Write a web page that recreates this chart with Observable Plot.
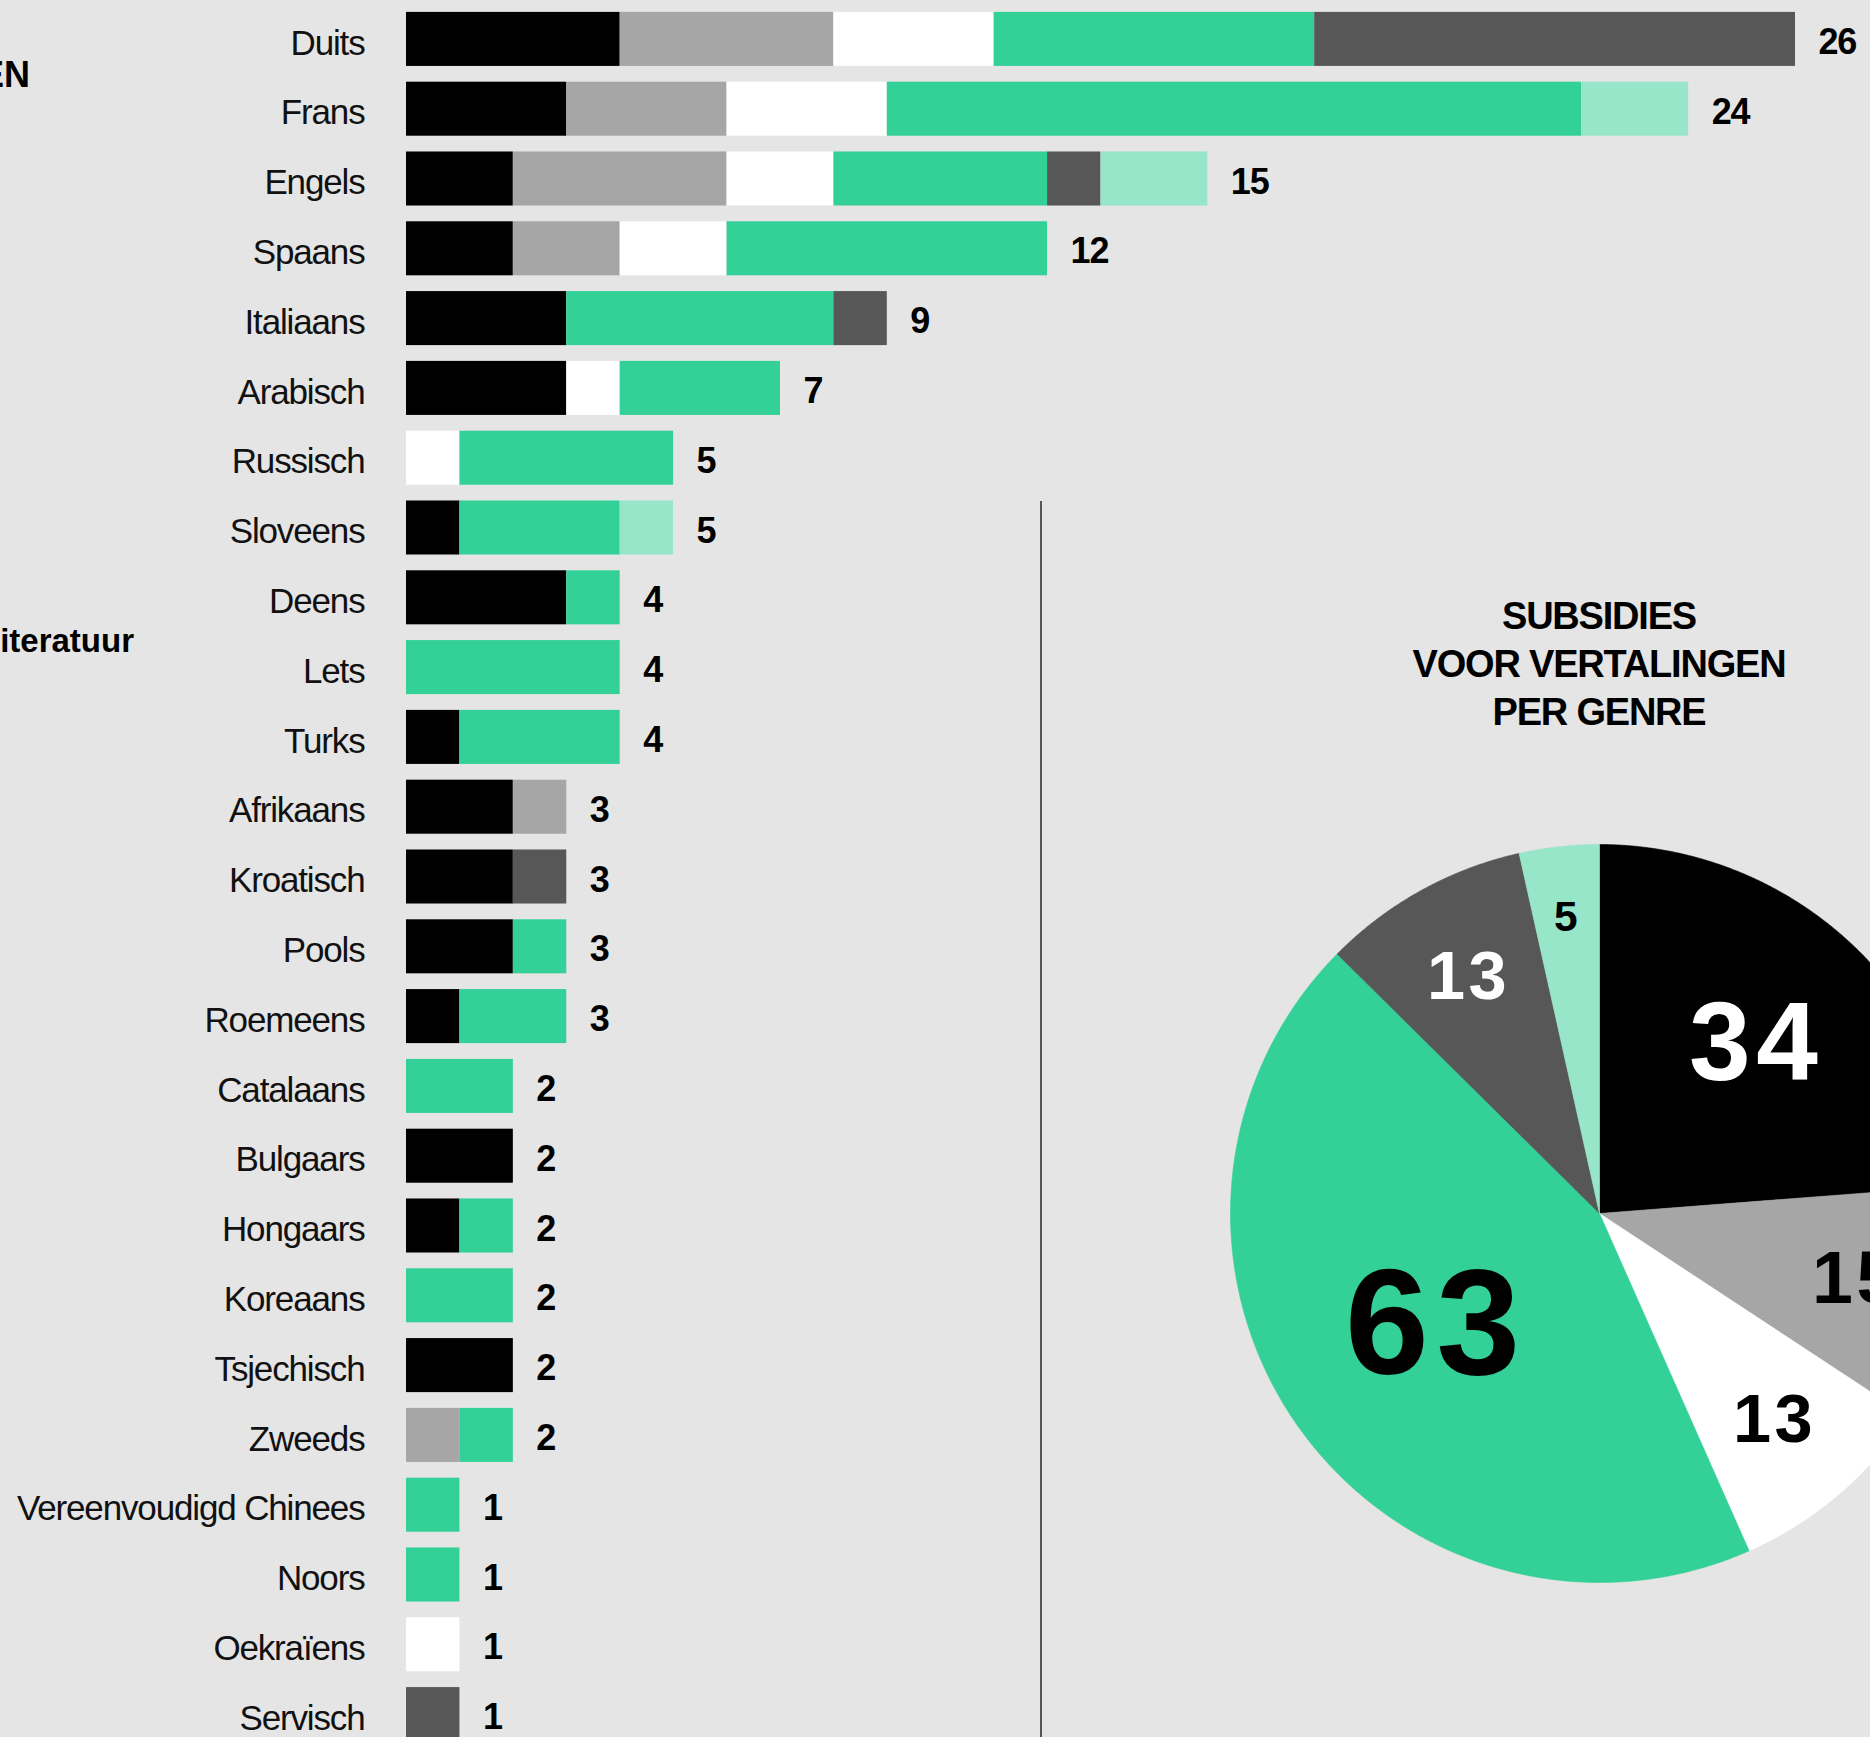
<!DOCTYPE html>
<html>
<head>
<meta charset="utf-8">
<script src="https://cdn.jsdelivr.net/npm/d3@7"></script>
<script src="https://cdn.jsdelivr.net/npm/@observablehq/plot@0.6"></script>
<style>
  html, body { margin: 0; padding: 0; }
  body { width: 1870px; height: 1737px; overflow: hidden; background: #e5e5e5; position: relative;
         font-family: "Liberation Sans", Arial, Helvetica, sans-serif; color: #000; }
  #bars { position: absolute; left: 0; top: 0; width: 1870px; }
  #bars svg, #pie svg { max-width: none !important; display: block; }
  #pie svg text { letter-spacing: 0.05em; }
  #pie { position: absolute; left: 1219px; top: 833px; width: 760px; }
  .frag { position: absolute; font-weight: bold; white-space: nowrap; text-align: right; }
  #title { position: absolute; left: 1299px; top: 592px; width: 600px; text-align: center;
           font-weight: bold; font-size: 38px; line-height: 48px; letter-spacing: -1.2px; }
  #divider { position: absolute; left: 1040px; top: 501px; width: 2px; height: 1240px; background: #555; }
</style>
</head>
<body>
<div class="frag" style="right:1840px; top:57px; font-size:36px; line-height:36px;">VERTALINGEN</div>
<div class="frag" style="right:1736px; top:624px; font-size:33px; line-height:33px;">Jeugdliteratuur</div>
<div id="divider"></div>
<div id="bars"></div>
<div id="title">SUBSIDIES<br>VOOR VERTALINGEN<br>PER GENRE</div>
<div id="pie"></div>
<script>
// ---- data ----
const languages = ["Duits", "Frans", "Engels", "Spaans", "Italiaans", "Arabisch", "Russisch", "Sloveens",
  "Deens", "Lets", "Turks", "Afrikaans", "Kroatisch", "Pools", "Roemeens", "Catalaans", "Bulgaars",
  "Hongaars", "Koreaans", "Tsjechisch", "Zweeds", "Vereenvoudigd Chinees", "Noors", "Oekraïens", "Servisch"];

const genres = ["genre A", "genre B", "genre C", "genre D", "genre E", "genre F"];

const genreA = [4, 3, 2, 2, 3, 3, 0, 1, 3, 0, 1, 2, 2, 2, 1, 0, 2, 1, 0, 2, 0, 0, 0, 0, 0];
const genreB = [4, 3, 4, 2, 0, 0, 0, 0, 0, 0, 0, 1, 0, 0, 0, 0, 0, 0, 0, 0, 1, 0, 0, 0, 0];
const genreC = [3, 3, 2, 2, 0, 1, 1, 0, 0, 0, 0, 0, 0, 0, 0, 0, 0, 0, 0, 0, 0, 0, 0, 1, 0];
const genreD = [6, 13, 4, 6, 5, 3, 4, 3, 1, 4, 3, 0, 0, 1, 2, 2, 0, 1, 2, 0, 1, 1, 1, 0, 0];
const genreE = [9, 0, 1, 0, 1, 0, 0, 0, 0, 0, 0, 0, 1, 0, 0, 0, 0, 0, 0, 0, 0, 0, 0, 0, 1];
const genreF = [0, 2, 2, 0, 0, 0, 0, 1, 0, 0, 0, 0, 0, 0, 0, 0, 0, 0, 0, 0, 0, 0, 0, 0, 0];

const pieValues = [34, 15, 13, 63, 13, 5];

// ---- styles ----
const genreColors = ["#000000", "#a6a6a6", "#ffffff", "#33d098", "#575757", "#98e6ca"];
const pieInk = ["#ffffff", "#000000", "#000000", "#000000", "#ffffff", "#000000"];
const FONT = '"Liberation Sans", Arial, Helvetica, sans-serif';

const series = [genreA, genreB, genreC, genreD, genreE, genreF];
const rows = languages.flatMap((lang, i) =>
  genres.map((genre, j) => ({lang, genre, value: series[j][i]}))).filter(d => d.value > 0);
const totals = languages.map((lang, i) => ({lang, total: d3.sum(series, s => s[i])}));

const bars = Plot.plot({
  width: 1870,
  height: 1749,
  marginLeft: 406,
  marginRight: 75,
  marginTop: 4,
  marginBottom: 0,
  x: {domain: [0, 26], axis: null},
  y: {domain: languages, paddingInner: 0.226, paddingOuter: 0.113, round: false, axis: null},
  color: {domain: genres, range: genreColors},
  style: {background: "transparent", fontFamily: FONT, fontSize: "35px", color: "#111", letterSpacing: "-1.15px"},
  marks: [
    Plot.barX(rows, {x: "value", y: "lang", fill: "genre"}),
    Plot.text(languages, {x: 0, y: d => d, text: d => d, dx: -42, dy: 4, textAnchor: "end",
      fontSize: 35, fill: "#111"}),
    Plot.text(totals, {x: "total", y: "lang", text: d => String(d.total), dx: 23, dy: 3, textAnchor: "start",
      fontWeight: "bold", fontSize: 36, fill: "#000"})
  ]
});
document.getElementById("bars").appendChild(bars);

// ---- pie ----
const arcs = d3.pie().sort(null).value(d => d)(pieValues);
const piePoints = arcs.flatMap((a, i) => {
  const n = Math.max(2, Math.ceil((a.endAngle - a.startAngle) / 0.004));
  const pts = [{genre: genres[i], x: 0, y: 0}];
  for (let k = 0; k <= n; k++) {
    const ang = a.startAngle + (a.endAngle - a.startAngle) * k / n;
    pts.push({genre: genres[i], x: Math.sin(ang), y: Math.cos(ang)});
  }
  pts.push({genre: genres[i], x: 0, y: 0});
  return pts;
});
const pieLabels = arcs.map((a, i) => {
  const mid = (a.startAngle + a.endAngle) / 2;
  const L = Math.log(a.value);
  const rr = 0.855 - 0.0185 * L * L;
  return {value: a.value, x: Math.sin(mid) * rr, y: Math.cos(mid) * rr, ink: pieInk[i], size: 19 * Math.sqrt(a.value)};
});

const pie = Plot.plot({
  width: 760,
  height: 760,
  margin: 11,
  x: {domain: [-1, 1], axis: null},
  y: {domain: [-1, 1], axis: null},
  color: {domain: genres, range: genreColors},
  style: {background: "transparent", fontFamily: FONT},
  marks: [
    Plot.line(piePoints, {x: "x", y: "y", z: "genre", fill: "genre", stroke: "genre", strokeWidth: 0.6}),
    Plot.text(pieLabels.filter(d => d.ink === "#ffffff"), {x: "x", y: "y", text: d => String(d.value),
      fill: "#ffffff", fontWeight: "bold", fontSize: d => d.size}),
    Plot.text(pieLabels.filter(d => d.ink === "#000000"), {x: "x", y: "y", text: d => String(d.value),
      fill: "#000000", fontWeight: "bold", fontSize: d => d.size})
  ]
});
document.getElementById("pie").appendChild(pie);
</script>
</body>
</html>
